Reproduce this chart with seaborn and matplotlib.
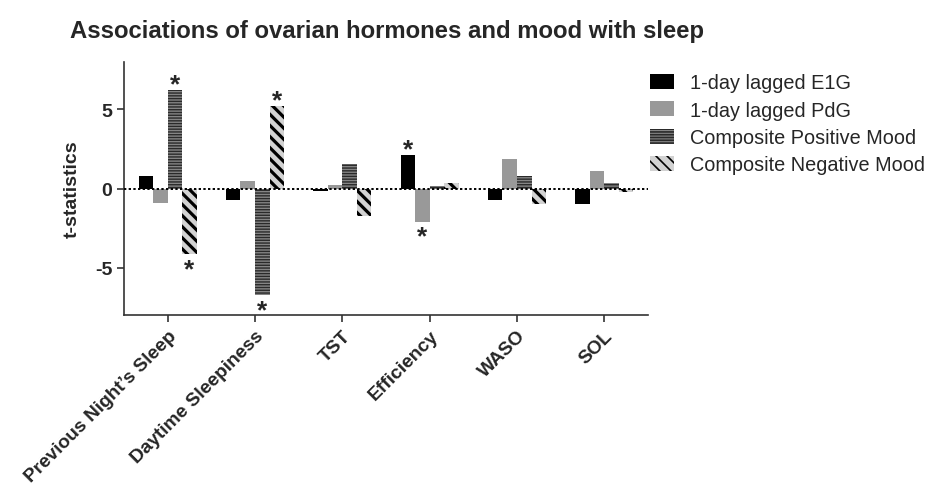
import numpy as np
import pandas as pd
import matplotlib
matplotlib.use("Agg")
import matplotlib.pyplot as plt
import seaborn as sns

categories = ["Previous Night\u2019s Sleep", "Daytime Sleepiness", "TST", "Efficiency", "WASO", "SOL"]
series = ["1-day lagged E1G", "1-day lagged PdG", "Composite Positive Mood", "Composite Negative Mood"]
e1g = [0.76, -0.74, -0.17, 2.15, -0.70, -0.95]
pdg = [-0.89, 0.46, 0.21, -2.09, 1.88, 1.12]
pos_mood = [6.21, -6.72, 1.58, 0.15, 0.76, 0.34]
neg_mood = [-4.17, 5.24, -1.74, 0.38, -0.95, -0.25]
significant = [
    ("Previous Night\u2019s Sleep", "Composite Positive Mood"),
    ("Previous Night\u2019s Sleep", "Composite Negative Mood"),
    ("Daytime Sleepiness", "Composite Positive Mood"),
    ("Daytime Sleepiness", "Composite Negative Mood"),
    ("Efficiency", "1-day lagged E1G"),
    ("Efficiency", "1-day lagged PdG"),
]
yticks = [-5, 0, 5]

rows = []
for name, vals in zip(series, [e1g, pdg, pos_mood, neg_mood]):
    for c, v in zip(categories, vals):
        rows.append({"category": c, "series": name, "t": v})
df = pd.DataFrame(rows)

sns.set_style("ticks")
plt.rcParams["font.family"] = ["Liberation Sans", "DejaVu Sans"]
plt.rcParams["hatch.linewidth"] = 1.2

face = ["#000000", "#999999", "#858585", "#d2d2d2"]
hatch_col = ["#000000", "#999999", "#2a2a2a", "#000000"]
hatches = ["", "", "------", "\\\\\\"]
hatch_lw = [1.0, 1.0, 1.0, 2.3]

fig = plt.figure(figsize=(9.37, 4.85), dpi=100)
ax = fig.add_axes([0.1323, 0.3485, 0.5593, 0.5215])

sns.barplot(data=df, x="category", y="t", hue="series", order=categories,
            hue_order=series, palette=face, width=0.665, saturation=1,
            errorbar=None, ax=ax, legend=True)


def style_patch(p, i):
    p.set_hatch(hatches[i])
    p.set_edgecolor(hatch_col[i])
    p.set_linewidth(0)
    if hasattr(p, "set_hatch_linewidth"):
        p.set_hatch_linewidth(hatch_lw[i])
    else:
        p._hatch_linewidth = hatch_lw[i]


for i, cont in enumerate(ax.containers):
    for p in cont.patches:
        style_patch(p, i)

# significance asterisks
for cat, ser in significant:
    si = series.index(ser)
    ci = categories.index(cat)
    p = ax.containers[si].patches[ci]
    xc = p.get_x() + p.get_width() / 2
    h = p.get_height()
    off = -1 if h >= 0 else -16
    ax.annotate("*", (xc, h), xytext=(0, off), textcoords="offset points",
                ha="center", va="baseline", fontsize=19, fontweight="bold")

ax.axhline(0, color="black", linestyle=(0, (1.2, 1.2)), linewidth=1.4, zorder=5)
ax.set_xlim(-0.5, 5.5)
ax.set_ylim(-8, 8)
ax.set_yticks(yticks)
ax.set_yticklabels([str(t) for t in yticks], fontsize=14, fontweight="bold")
ax.set_xlabel("")
ax.set_ylabel("t-statistics", fontsize=14, fontweight="bold", labelpad=10)
ax.set_xticks(range(len(categories)))
ax.set_xticklabels(categories, rotation=45, ha="right", rotation_mode="anchor",
                   fontsize=13.8, fontweight="bold")
ax.tick_params(axis="both", length=5, width=1.2, color="#333333")
for s in ["left", "bottom"]:
    ax.spines[s].set_linewidth(1.2)
    ax.spines[s].set_color("#333333")
sns.despine(ax=ax)

handles, labels = ax.get_legend_handles_labels()
for i, h in enumerate(handles):
    style_patch(h, i)
ax.legend(handles, labels, loc="upper left", bbox_to_anchor=(0.995, 0.975),
          frameon=False, fontsize=14.3, handlelength=1.2, handleheight=0.8,
          handletextpad=0.8, labelspacing=0.42, borderaxespad=0.0, borderpad=0.25)

fig.text(0.075, 0.935, "Associations of ovarian hormones and mood with sleep",
         fontsize=17.2, fontweight="bold", ha="left", va="center")

fig.savefig("out.png", dpi=100)
